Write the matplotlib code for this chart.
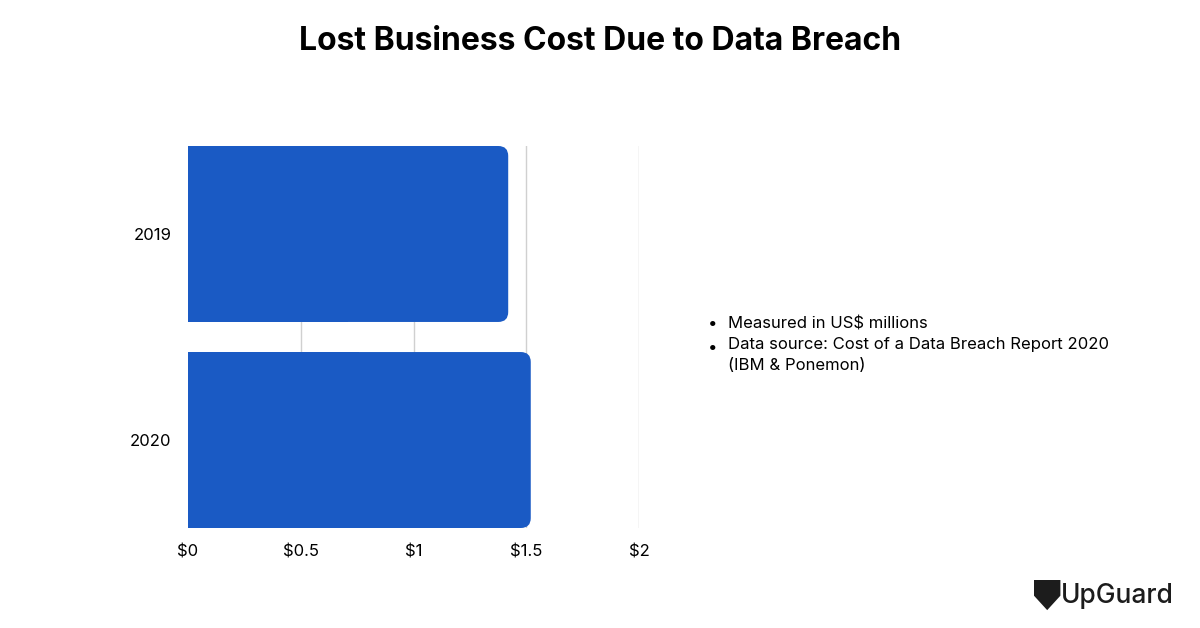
import matplotlib
matplotlib.use("Agg")
import matplotlib.pyplot as plt
from matplotlib.patches import FancyBboxPatch, Rectangle, Polygon

years = ["2019", "2020"]
costs = [1.42, 1.52]
xticks = [0, 0.5, 1, 1.5, 2]
xtick_labels = ["$0", "$0.5", "$1", "$1.5", "$2"]
notes = ["Measured in US$ millions",
         "Data source: Cost of a Data Breach Report 2020\n(IBM & Ponemon)"]

plt.rcParams["font.family"] = "Inter"
blue = "#1a5ac4"

fig = plt.figure(figsize=(12, 6.28), dpi=100)
ax = fig.add_axes([188 / 1200, 1 - 528 / 628, 451 / 1200, 382 / 628])

h = 0.854
ax.set_xlim(0, 2)
ax.set_ylim(1 + h / 2, -h / 2)
for x in xticks[1:]:
    ax.axvline(x, color="#d0d0d0", lw=1, zorder=0)

r = 0.044
for i, v in enumerate(costs):
    ax.add_patch(FancyBboxPatch((0, i - h / 2), v, h,
                                boxstyle=f"round,pad=0,rounding_size={r}",
                                mutation_aspect=1.095, fc=blue, ec="none", zorder=2))
    ax.add_patch(Rectangle((0, i - h / 2), v / 2, h, fc=blue, ec="none", zorder=2))

ax.set_yticks(range(len(years)))
ax.set_yticklabels(years, fontsize=12)
ax.set_xticks(xticks)
ax.set_xticklabels(xtick_labels, fontsize=12)
ax.tick_params(length=0, pad=12)
ax.tick_params(axis="y", pad=12)
for s in ax.spines.values():
    s.set_visible(False)

fig.text(0.5, 1 - 42 / 628, "Lost Business Cost Due to Data Breach",
         ha="center", va="center", fontsize=23, fontweight="bold")

fig.text(708 / 1200, 1 - 324 / 628, "•", fontsize=12, va="center")
fig.text(728 / 1200, 1 - 324 / 628, notes[0], fontsize=12, va="center")
fig.text(708 / 1200, 1 - 348 / 628, "•", fontsize=12, va="center")
fig.text(728 / 1200, 1 - 337 / 628, notes[1], fontsize=12, va="top", linespacing=1.5)

# logo
fig.text(1174 / 1200, 1 - 596 / 628, "UpGuard", ha="right", va="center",
         fontsize=19, fontweight="medium", color="#1c1c1c")
lx, ly = 1034 / 1200, 1 - 580 / 628
shield = Polygon([(lx, ly), (lx + 0.022, ly), (lx + 0.022, ly - 0.025),
                  (lx + 0.011, ly - 0.048), (lx, ly - 0.025)],
                 closed=True, transform=fig.transFigure, fc="#1c1c1c", ec="none",
                 joinstyle="round")
fig.patches.append(shield)

fig.savefig("out.png", dpi=100, facecolor="white")
